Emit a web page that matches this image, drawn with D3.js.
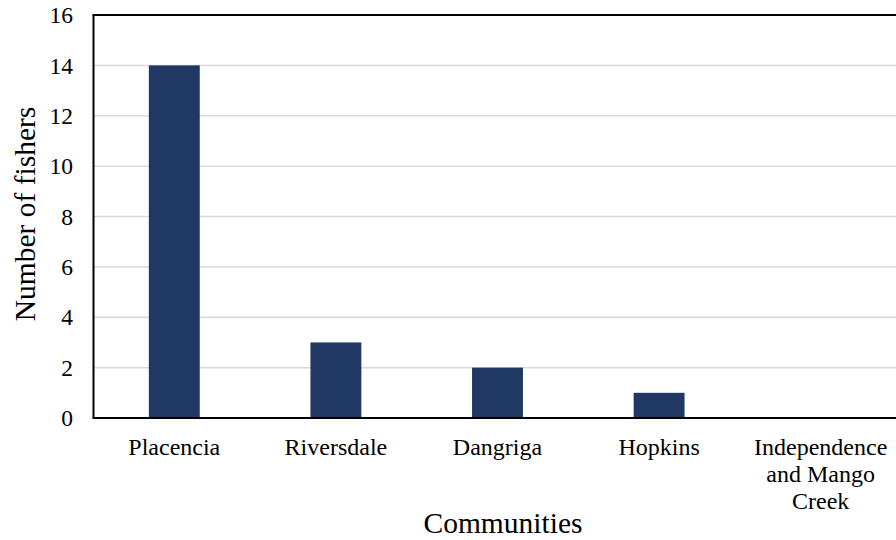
<!DOCTYPE html>
<html>
<head>
<meta charset="utf-8">
<script src="https://cdn.jsdelivr.net/npm/d3@7"></script>
<style>
  body { margin: 0; background: #fff; }
  svg { display: block; font-family: "Liberation Serif", "Times New Roman", serif; }
</style>
</head>
<body>
<svg id="chart" width="896" height="540"></svg>
<script>
// Fishers interviewed per community
const communities = ["Placencia", "Riversdale", "Dangriga", "Hopkins", "Independence and Mango Creek"];
const fishers = [14, 3, 2, 1, 0];
const yTicks = [0, 2, 4, 6, 8, 10, 12, 14, 16];
// Wrapped label lines per community
const labelLines = [["Placencia"], ["Riversdale"], ["Dangriga"], ["Hopkins"], ["Independence", "and Mango", "Creek"]];

const svg = d3.select("#chart");
const margin = { left: 93.5, top: 15, right: 901.5, bottom: 418 };

const x = d3.scaleBand()
  .domain(communities)
  .range([margin.left, margin.right])
  .paddingInner(0.685)
  .paddingOuter(0.3425);

const y = d3.scaleLinear()
  .domain([0, 16])
  .range([margin.bottom, margin.top]);

// Gridlines
svg.append("g")
  .selectAll("line")
  .data(yTicks.filter(d => d > 0 && d < 16))
  .join("line")
  .attr("x1", margin.left)
  .attr("x2", 896)
  .attr("y1", d => y(d))
  .attr("y2", d => y(d))
  .attr("stroke", "#d9d9d9")
  .attr("stroke-width", 1.5);

// Bars
svg.append("g")
  .selectAll("rect")
  .data(communities)
  .join("rect")
  .attr("x", d => x(d))
  .attr("width", x.bandwidth())
  .attr("y", (d, i) => y(fishers[i]))
  .attr("height", (d, i) => y(0) - y(fishers[i]))
  .attr("fill", "#203864");

// Frame: left axis, baseline and top border
svg.append("line")
  .attr("x1", margin.left).attr("x2", margin.left)
  .attr("y1", margin.top).attr("y2", margin.bottom)
  .attr("stroke", "#000").attr("stroke-width", 2);
svg.append("line")
  .attr("x1", margin.left - 1).attr("x2", 896)
  .attr("y1", margin.top).attr("y2", margin.top)
  .attr("stroke", "#000").attr("stroke-width", 2);
svg.append("line")
  .attr("x1", margin.left - 1).attr("x2", 896)
  .attr("y1", margin.bottom).attr("y2", margin.bottom)
  .attr("stroke", "#000").attr("stroke-width", 2);

// Y tick labels
svg.append("g")
  .selectAll("text")
  .data(yTicks)
  .join("text")
  .attr("x", 73)
  .attr("y", d => y(d))
  .attr("dy", "0.35em")
  .attr("text-anchor", "end")
  .attr("font-size", 23.5)
  .attr("fill", "#000")
  .text(d => d);

// Category labels
const catG = svg.append("g")
  .selectAll("text")
  .data(communities)
  .join("text")
  .attr("x", d => x(d) + x.bandwidth() / 2)
  .attr("y", 455)
  .attr("text-anchor", "middle")
  .attr("font-size", 24)
  .attr("fill", "#000");
catG.selectAll("tspan")
  .data((d, i) => labelLines[i])
  .join("tspan")
  .attr("x", function () { return d3.select(this.parentNode).attr("x"); })
  .attr("dy", (d, i) => i === 0 ? 0 : 27)
  .text(d => d);

// Axis titles
svg.append("text")
  .attr("x", 503)
  .attr("y", 533)
  .attr("text-anchor", "middle")
  .attr("font-size", 29.5)
  .attr("fill", "#000")
  .text("Communities");

svg.append("text")
  .attr("transform", "translate(35,214) rotate(-90)")
  .attr("text-anchor", "middle")
  .attr("font-size", 29.5)
  .attr("fill", "#000")
  .text("Number of fishers");
</script>
</body>
</html>
